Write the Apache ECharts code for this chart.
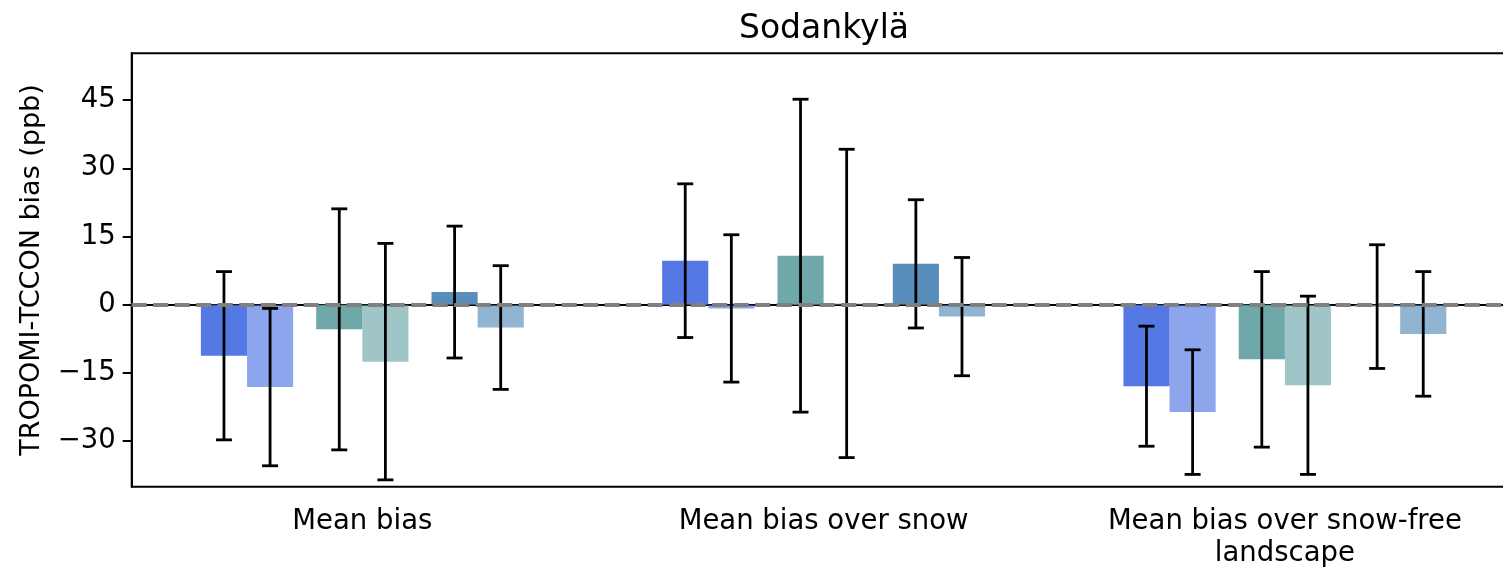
<!DOCTYPE html>
<html>
<head>
<meta charset="utf-8">
<script src="https://cdn.jsdelivr.net/npm/echarts@6/dist/echarts.min.js"></script>
<style>
html,body{margin:0;padding:0;background:#fff;overflow:hidden;width:1503px;height:567px;}
#chart{width:1530px;height:567px;}
</style>
</head>
<body>
<div id="chart"></div>
<script>
// ---- data ----
const categories = ["Mean bias", "Mean bias over snow", "Mean bias over snow-free\nlandscape"];
const yTicks = [-30, -15, 0, 15, 30, 45];
const seriesNames = ["s1", "s2", "s3", "s4", "s5", "s6"];
const s1Values = [-11.2, 9.7, -17.9];
const s2Values = [-18.1, -0.8, -23.6];
const s3Values = [-5.4, 10.8, -12.0];
const s4Values = [-12.5, 0.3, -17.7];
const s5Values = [2.8, 9.0, -0.4];
const s6Values = [-5.0, -2.6, -6.4];
const s1Errors = [18.5, 16.9, 13.2];
const s2Errors = [17.3, 16.2, 13.7];
const s3Errors = [26.5, 34.4, 19.3];
const s4Errors = [26.0, 33.9, 19.6];
const s5Errors = [14.5, 14.1, 13.6];
const s6Errors = [13.6, 13.0, 13.7];
const yMin = -40, yMax = 55.3;

// ---- rendering ----
const allValues = [s1Values, s2Values, s3Values, s4Values, s5Values, s6Values];
const allErrors = [s1Errors, s2Errors, s3Errors, s4Errors, s5Errors, s6Errors];
const colors = [
  "rgba(65,105,225,0.9)", "rgba(65,105,225,0.6)",
  "rgba(95,158,160,0.9)", "rgba(95,158,160,0.6)",
  "rgba(70,130,180,0.9)", "rgba(70,130,180,0.6)"
];
const offsets = [-0.30, -0.20, -0.05, 0.05, 0.20, 0.30];
const barFrac = 0.1;
const FONT = "DejaVu Sans";
const fmt = v => String(v).replace("-", "\u2212");

const series = [];
allValues.forEach((vals, i) => {
  series.push({
    type: "custom",
    name: seriesNames[i],
    z: 2,
    data: vals.map((v, c) => [c, v]),
    renderItem: function (params, api) {
      const c = api.value(0), v = api.value(1);
      const p0 = api.coord([c, 0]);
      const p1 = api.coord([c, v]);
      const bw = api.size([1, 0])[0];
      const x = p0[0] + offsets[i] * bw - barFrac * bw / 2;
      return {
        type: "rect",
        shape: { x: x, y: Math.min(p0[1], p1[1]), width: barFrac * bw, height: Math.abs(p1[1] - p0[1]) },
        style: { fill: colors[i] }
      };
    }
  });
});
allValues.forEach((vals, i) => {
  series.push({
    type: "custom",
    name: seriesNames[i] + " error",
    z: 3,
    data: vals.map((v, c) => [c, v - allErrors[i][c], v + allErrors[i][c]]),
    renderItem: function (params, api) {
      const c = api.value(0);
      const lo = api.coord([c, api.value(1)]);
      const hi = api.coord([c, api.value(2)]);
      const bw = api.size([1, 0])[0];
      const x = lo[0] + offsets[i] * bw;
      const cap = 8;
      const st = { stroke: "#000", lineWidth: 2.8 };
      return {
        type: "group",
        children: [
          { type: "line", shape: { x1: x, y1: lo[1], x2: x, y2: hi[1] }, style: st },
          { type: "line", shape: { x1: x - cap, y1: lo[1], x2: x + cap, y2: lo[1] }, style: st },
          { type: "line", shape: { x1: x - cap, y1: hi[1], x2: x + cap, y2: hi[1] }, style: st }
        ]
      };
    }
  });
});
series.push({
  type: "line",
  name: "zero",
  data: [],
  z: 4,
  markLine: {
    silent: true,
    symbol: "none",
    label: { show: false },
    lineStyle: { color: "#808080", width: 4, type: [15, 6.5], opacity: 1 },
    data: [{ yAxis: 0 }]
  }
});

const chart = echarts.init(document.getElementById("chart"), null, { renderer: "canvas", width: 1530, height: 567 });
chart.setOption({
  animation: false,
  backgroundColor: "#fff",
  title: {
    text: "Sodankylä",
    left: 819, textAlign: "center", top: 8,
    textStyle: { fontFamily: FONT, fontSize: 33, fontWeight: "normal", color: "#000" }
  },
  grid: {
    left: 131.7, top: 53.3, right: 14.5, bottom: 80.3,
    outerBoundsMode: "none",
    show: true, borderColor: "#000", borderWidth: 2, containLabel: false
  },
  xAxis: {
    type: "category",
    data: categories,
    boundaryGap: true,
    axisLine: { lineStyle: { color: "#000", width: 2 } },
    axisTick: { alignWithLabel: true, length: 9, lineStyle: { color: "#000", width: 2 } },
    axisLabel: { fontFamily: FONT, fontSize: 27.5, color: "#000", margin: 19, lineHeight: 32, interval: 0, align: "center" },
    splitLine: { show: false }
  },
  yAxis: {
    type: "value",
    min: yMin, max: yMax,
    name: "TROPOMI-TCCON bias (ppb)",
    nameLocation: "middle",
    nameRotate: 90,
    nameGap: 86,
    nameTextStyle: { fontFamily: FONT, fontSize: 27, color: "#000" },
    axisLine: { show: true, lineStyle: { color: "#000", width: 2 } },
    axisTick: { show: true, length: 9, customValues: yTicks, lineStyle: { color: "#000", width: 2 } },
    axisLabel: { fontFamily: FONT, fontSize: 27.5, color: "#000", margin: 16, customValues: yTicks, formatter: fmt },
    splitLine: { show: false }
  },
  series: series
});
</script>
</body>
</html>
